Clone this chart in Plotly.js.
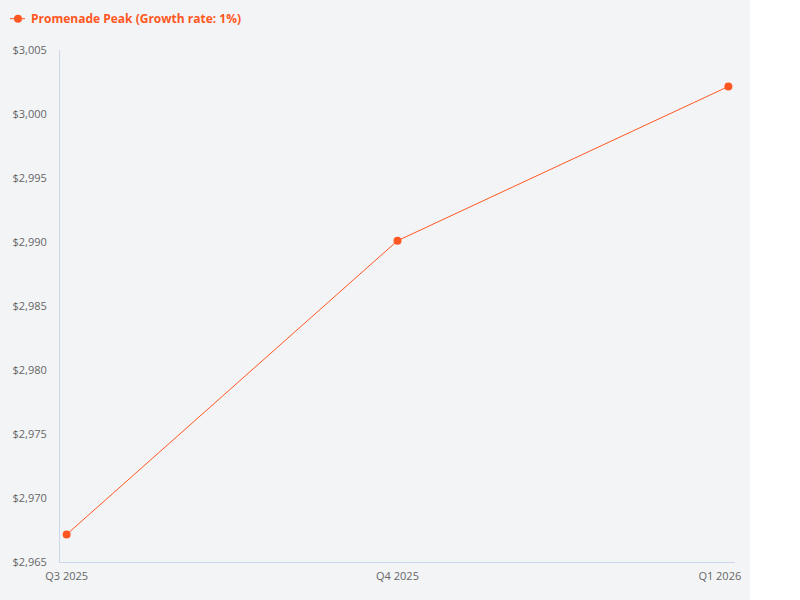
<!DOCTYPE html>
<html>
<head>
<meta charset="utf-8">
<script src="https://cdn.plot.ly/plotly-3.0.1.min.js"></script>
<style>
  body { margin: 0; background: #ffffff; }
  #chart { width: 800px; height: 600px; background: linear-gradient(to right, #f3f4f6 750px, #ffffff 750px); }
</style>
</head>
<body>
<div id="chart"></div>
<script>
// quarters and price values
const quarters = ['Q3 2025', 'Q4 2025', 'Q1 2026'];
const prices = [2967.15, 2990.1, 3002.15];
const seriesName = 'Promenade Peak (Growth rate: 1%)';
const yTicks = [2965, 2970, 2975, 2980, 2985, 2990, 2995, 3000, 3005];

const accent = '#ff5722';
const axisColor = '#ccd6eb';

// "$2,965" style labels
const yLabels = yTicks.map(v => '$' + v.toLocaleString('en-US'));
// last label pulled inside the plot like the original does
const xLabels = quarters.map((q, i) => i === quarters.length - 1 ? q + '\u00a0\u00a0\u00a0\u00a0\u00a0\u00a0' : q);

const trace = {
    x: quarters,
    y: prices,
    name: seriesName,
    type: 'scatter',
    mode: 'lines+markers',
    line: { color: accent, width: 1 },
    marker: { color: accent, size: 8 },
    showlegend: true
};

const layout = {
    width: 800,
    height: 600,
    paper_bgcolor: 'rgba(0,0,0,0)',
    plot_bgcolor: 'rgba(0,0,0,0)',
    margin: { l: 60, r: 65, t: 50, b: 38 },
    font: { family: 'Open Sans, sans-serif', size: 11, color: '#666666' },
    showlegend: true,
    legend: {
        xref: 'container', yref: 'container',
        x: 0, y: 0.993, xanchor: 'left', yanchor: 'top',
        orientation: 'h',
        font: { family: 'Open Sans, sans-serif', size: 12, color: accent, weight: 'bold' },
        bgcolor: 'rgba(0,0,0,0)'
    },
    xaxis: {
        type: 'category',
        range: [-0.02, 2.02],
        tickvals: quarters,
        ticktext: xLabels,
        showline: true,
        linecolor: axisColor,
        linewidth: 1,
        showgrid: false,
        zeroline: false,
        ticks: '',
        ticklabelstandoff: 4,
        tickfont: { size: 11, color: '#666666' }
    },
    yaxis: {
        range: [2965, 3005],
        tickvals: yTicks,
        ticktext: yLabels,
        showline: true,
        linecolor: axisColor,
        linewidth: 1,
        showgrid: false,
        zeroline: false,
        ticks: '',
        ticklabelstandoff: 10,
        tickfont: { size: 11, color: '#666666' }
    }
};

Plotly.newPlot('chart', [trace], layout, { displayModeBar: false }).then(gd => {
    // tighten the legend key: shorter line, text closer to it
    gd.querySelectorAll('.legend .legendtext').forEach(t => t.setAttribute('x', 31));
    gd.querySelectorAll('.legend .legendlines path').forEach(p => p.setAttribute('d', 'M10,0h15'));
    gd.querySelectorAll('.legend .legendpoints path').forEach(p => p.setAttribute('transform', 'translate(18,0)'));
});
</script>
</body>
</html>
